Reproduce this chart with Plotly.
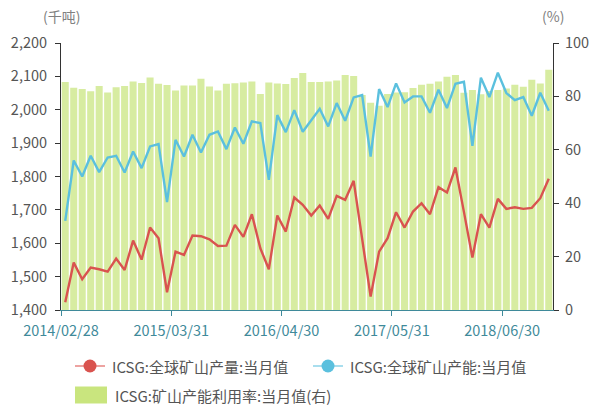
import plotly.graph_objects as go
import pandas as pd

# ---- data ----
months = [d.strftime("%Y/%m/%d") for d in pd.date_range("2014-02-28", periods=58, freq="ME")]

production = [1423, 1542, 1492, 1527, 1522, 1515, 1554, 1520, 1608, 1551,
              1647, 1615, 1453, 1575, 1565, 1623, 1621, 1612, 1592, 1593,
              1655, 1619, 1687, 1585, 1522, 1683, 1635, 1737, 1715, 1683,
              1713, 1673, 1742, 1730, 1787, 1618, 1440, 1575, 1615, 1693,
              1647, 1695, 1720, 1687, 1768, 1752, 1827, 1694, 1557, 1687,
              1647, 1733, 1703, 1708, 1703, 1706, 1735, 1793]

capacity = [1667, 1848, 1800, 1862, 1813, 1857, 1862, 1812, 1875, 1825,
            1890, 1897, 1723, 1910, 1860, 1925, 1872, 1925, 1935, 1882,
            1947, 1898, 1965, 1960, 1790, 1984, 1933, 1999, 1934, 1970,
            2003, 1950, 2020, 1967, 2037, 2044, 1860, 2062, 2008, 2079,
            2022, 2040, 2040, 1991, 2060, 2005, 2078, 2084, 1892, 2096,
            2038, 2111, 2050, 2029, 2038, 1982, 2051, 1997]

utilization = [85.4, 83.25, 82.75, 81.9, 83.9, 81.5, 83.4, 83.9, 85.6, 85.0,
               87.1, 84.75, 84.25, 82.25, 84.1, 84.1, 86.6, 83.75, 82.25, 84.75,
               84.9, 85.25, 85.6, 80.9, 85.2, 84.8, 84.6, 86.9, 88.75, 85.4,
               85.4, 85.6, 86.0, 88.0, 87.6, 80.5, 77.6, 76.5, 80.9, 81.5,
               81.6, 83.1, 84.4, 84.75, 85.6, 87.4, 88.0, 81.4, 82.4, 80.8,
               82.0, 82.4, 83.0, 84.4, 83.6, 86.2, 84.8, 90.0]

tick_idx = [0, 13, 26, 39, 52]
left_ticks = [1400, 1500, 1600, 1700, 1800, 1900, 2000, 2100, 2200]
right_ticks = [0, 20, 40, 60, 80, 100]

name_prod = "ICSG:全球矿山产量:当月值"
name_cap = "ICSG:全球矿山产能:当月值"
name_util = "ICSG:矿山产能利用率:当月值(右)"

RED = "#d9534f"
BLUE = "#5bc0de"
GREEN = "#c9e57e"
FONT = "Noto Sans CJK SC, Noto Sans, sans-serif"

# plot-area geometry (px) for the hand-made legend
L, R, T, B = 61, 553, 43, 310
W, H = R - L, B - T


def px(xp):
    return (xp - L) / W


def py(yp):
    return (B - yp) / H


x = list(range(len(months)))

fig = go.Figure()
fig.add_trace(go.Bar(x=x, y=utilization, yaxis="y", name=name_util,
                     marker=dict(color=GREEN, line=dict(width=0)), opacity=0.72))
fig.add_trace(go.Scatter(x=x, y=production, yaxis="y2", mode="lines", name=name_prod,
                         line=dict(color=RED, width=2.4)))
fig.add_trace(go.Scatter(x=x, y=capacity, yaxis="y2", mode="lines", name=name_cap,
                         line=dict(color=BLUE, width=2.4)))

shapes = []
annotations = []
legend_items = [
    (name_prod, RED, "#eda3a1", 75, 366, "line"),
    (name_cap, BLUE, "#a9deee", 313, 366, "line"),
    (name_util, GREEN, None, 75, 395, "rect"),
]
for name, col, lcol, x0, yc, kind in legend_items:
    if kind == "line":
        shapes.append(dict(type="line", xref="paper", yref="paper",
                           x0=px(x0), x1=px(x0 + 30), y0=py(yc), y1=py(yc),
                           line=dict(color=lcol, width=2)))
        shapes.append(dict(type="circle", xref="paper", yref="paper",
                           x0=px(x0 + 15 - 6.5), x1=px(x0 + 15 + 6.5),
                           y0=py(yc + 6.5), y1=py(yc - 6.5),
                           fillcolor=col, line=dict(color=col, width=0)))
        tx = x0 + 35
    else:
        shapes.append(dict(type="rect", xref="paper", yref="paper",
                           x0=px(x0), x1=px(x0 + 32), y0=py(yc + 8.5), y1=py(yc - 8.5),
                           fillcolor=col, line=dict(color=col, width=0)))
        tx = x0 + 38
    annotations.append(dict(text=name, xref="paper", yref="paper", x=px(tx), y=py(yc),
                            xanchor="left", yanchor="middle", showarrow=False,
                            font=dict(size=15, color="#555555")))

annotations += [
    dict(text="(千吨)", xref="paper", yref="paper", x=0, y=1, xanchor="center",
         yanchor="bottom", yshift=15, showarrow=False,
         font=dict(size=14, color="#808080")),
    dict(text="(%)", xref="paper", yref="paper", x=1, y=1, xanchor="center",
         yanchor="bottom", yshift=15, showarrow=False,
         font=dict(size=14, color="#808080")),
]

fig.update_layout(
    width=592, height=410,
    margin=dict(l=L, r=592 - R, t=T, b=410 - B, autoexpand=False),
    paper_bgcolor="white", plot_bgcolor="white",
    font=dict(family=FONT, size=14, color="#555555"),
    bargap=0.17,
    showlegend=False,
    xaxis=dict(range=[-0.5, len(months) - 0.5],
               tickmode="array",
               tickvals=[i - 0.5 for i in tick_idx],
               ticktext=[months[i] for i in tick_idx],
               ticks="outside", ticklen=5, tickcolor="#3f8a9a",
               ticklabelstandoff=3,
               showline=True, linecolor="#3f8a9a", linewidth=1,
               showgrid=False, zeroline=False,
               tickfont=dict(color="#3f8a9a", size=14.5)),
    yaxis=dict(range=[0, 100], tickvals=right_ticks, side="right",
               ticks="outside", ticklen=5, tickcolor="#333333",
               ticklabelstandoff=3,
               showline=True, linecolor="#333333", linewidth=1,
               showgrid=False, zeroline=False,
               tickfont=dict(color="#555555", size=14.5)),
    yaxis2=dict(range=[1400, 2200], tickvals=left_ticks, overlaying="y", side="left",
                tickformat=",d",
                ticks="outside", ticklen=5, tickcolor="#333333",
                ticklabelstandoff=5,
                showline=True, linecolor="#333333", linewidth=1,
                showgrid=False, zeroline=False,
                tickfont=dict(color="#555555", size=14.5)),
    shapes=shapes,
    annotations=annotations,
)

fig.write_html("out.html",
               config={"displayModeBar": False},
               post_script="document.body.style.margin='0';document.body.style.overflow='hidden';")
